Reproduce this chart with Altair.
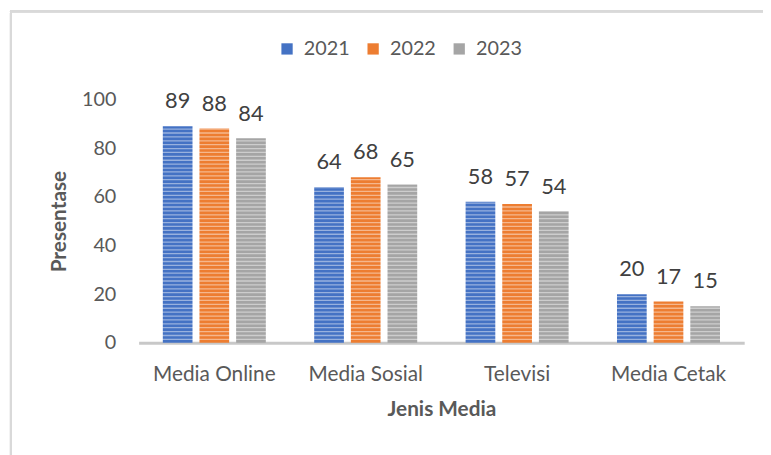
import altair as alt
import pandas as pd

categories = ["Media Online", "Media Sosial", "Televisi", "Media Cetak"]
years = ["2021", "2022", "2023"]
v2021 = [89, 64, 58, 20]
v2022 = [88, 68, 57, 17]
v2023 = [84, 65, 54, 15]
colors = ["#4472C4", "#ED7D31", "#A5A5A5"]

rows = []
for yr, vals in zip(years, [v2021, v2022, v2023]):
    for c, v in zip(categories, vals):
        rows.append({"media": c, "year": yr, "value": v})
df = pd.DataFrame(rows)

W, H = 612, 246
FONT = "Lato"

x_enc = alt.X("media:N", sort=categories,
              scale=alt.Scale(paddingInner=0, paddingOuter=0),
              axis=alt.Axis(labelAngle=0, ticks=False, labelPadding=21,
                            labelFontSize=21, labelColor="#595959",
                            domainColor="#C8C8C8", domainWidth=3,
                            title="Jenis Media", titleFontSize=21,
                            titleFontWeight="bold", titleColor="#595959",
                            titlePadding=14))
xoff = alt.XOffset("year:N", sort=years,
                   scale=alt.Scale(paddingInner=0.19, paddingOuter=0.66))
y_enc = alt.Y("value:Q", scale=alt.Scale(domain=[0, 100]),
              axis=alt.Axis(values=[0, 20, 40, 60, 80, 100], grid=False,
                            domain=False, ticks=False, labelPadding=23,
                            labelFontSize=20, labelColor="#595959",
                            title="Presentase", titleFontSize=21,
                            titleFontWeight="bold", titleColor="#595959",
                            titleX=-80, titleY=H / 2, titleAlign="center",
                            titleBaseline="middle", titleAngle=270))

bars = alt.Chart(df).mark_bar().encode(
    x=x_enc, xOffset=xoff, y=y_enc,
    color=alt.Color("year:N", sort=years,
                    scale=alt.Scale(domain=years, range=colors),
                    legend=alt.Legend(orient="none", legendX=140, legendY=-61,
                                      direction="horizontal", title=None,
                                      symbolType="square", symbolSize=130,
                                      symbolStrokeWidth=0, labelFontSize=20,
                                      labelColor="#595959", labelOffset=7,
                                      columnPadding=13)),
)

stripes = alt.Chart(alt.sequence(1.4, 90, 1.6, as_="s")).mark_rule(
    color="white", opacity=0.45, strokeWidth=1.3
).encode(
    y=alt.Y("s:Q"),
    x=alt.value(0), x2=alt.value(W),
)

labels = alt.Chart(df).mark_text(
    dy=-25, fontSize=22, color="#404040", baseline="middle"
).encode(
    x=alt.X("media:N", sort=categories), xOffset=xoff,
    y=alt.Y("value:Q"), text=alt.Text("value:Q"),
)

border = alt.Chart(df).mark_rect(
    fill=None, filled=False, stroke="#D9D9D9", strokeWidth=2
).encode(
    x=alt.value(-129), x2=alt.value(700),
    y=alt.value(-89), y2=alt.value(450),
)

chart = alt.layer(border, bars, stripes, labels).properties(
    width=W, height=H,
    autosize=alt.AutoSizeParams(type="none"),
    padding={"left": 132, "top": 90, "right": 19, "bottom": 111},
).configure(font=FONT).configure_view(stroke=None)

chart.save("out.html", embed_options={"renderer": "svg", "actions": False})
